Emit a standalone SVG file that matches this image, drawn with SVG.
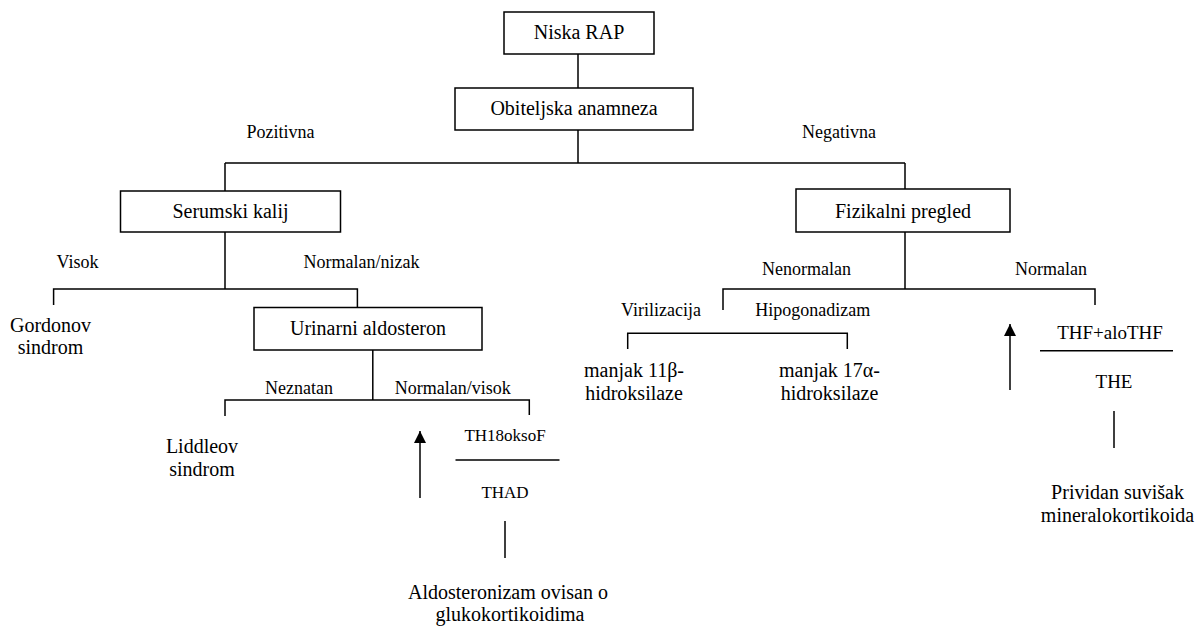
<svg xmlns="http://www.w3.org/2000/svg" width="1200" height="626" viewBox="0 0 1200 626">
<defs>
<style>
.box{fill:#fff;stroke:#000;stroke-width:1.5}
.ln{fill:none;stroke:#000;stroke-width:1.5}
.tx{fill:#000;text-anchor:middle}
.t20{font-size:20px}
.t18{font-size:18px}
.t17{font-size:17px}
.t19{font-size:19px}
</style>
<marker id="ah" markerUnits="userSpaceOnUse" markerWidth="12" markerHeight="12" refX="12" refY="6" orient="auto" viewBox="0 0 12 12">
<path d="M0,0 L12,6 L0,12 Z" fill="#000"/>
</marker>
</defs>
<rect width="1200" height="626" fill="#fff"/>
<g id="connectors">
<path class="ln" d="M578,54 V88 M578,130 V163 M225,163 H905 M225,163 V191 M905,163 V189"/>
<path class="ln" d="M225,232 V289 M53.6,305 V289 H357.4 V307.5"/>
<path class="ln" d="M905,232 V289 M723,310 V289 H1095 V305"/>
<path class="ln" d="M627.7,349 V333.3 H847.3 V349"/>
<path class="ln" d="M372.8,350 V400 M225,416 V400 H529.3 V415"/>
<path class="ln" d="M455.5,460 H559.5 M505,521 V558"/>
<path class="ln" d="M1040,350.7 H1173 M1114,411 V448"/>
<line class="ln" x1="420" y1="498" x2="420" y2="431" marker-end="url(#ah)"/>
<line class="ln" x1="1010" y1="390" x2="1010" y2="324" marker-end="url(#ah)"/>
</g>
<g font-family="'Liberation Serif', 'DejaVu Serif', 'Times New Roman', serif">
<g id="labels">
<text class="tx t18" x="280.5" y="138">Pozitivna</text>
<text class="tx t18" x="839" y="138">Negativna</text>
<text class="tx t18" x="77.5" y="268">Visok</text>
<text class="tx t18" x="361.5" y="268">Normalan/nizak</text>
<text class="tx t18" x="806.6" y="275">Nenormalan</text>
<text class="tx t18" x="1051" y="275">Normalan</text>
<text class="tx t18" x="661" y="316">Virilizacija</text>
<text class="tx t18" x="812.8" y="316">Hipogonadizam</text>
<text class="tx t18" x="299" y="394">Neznatan</text>
<text class="tx t18" x="452.8" y="394">Normalan/visok</text>
</g>
<g id="n_niska"><rect class="box" x="504" y="12" width="150" height="42"/><text class="tx t20" x="579" y="39">Niska RAP</text></g>
<g id="n_obiteljska"><rect class="box" x="455" y="88" width="238" height="42"/><text class="tx t20" x="574" y="115">Obiteljska anamneza</text></g>
<g id="n_serumski"><rect class="box" x="120.5" y="191" width="220" height="41"/><text class="tx t20" x="230.5" y="218">Serumski kalij</text></g>
<g id="n_fizikalni"><rect class="box" x="796" y="189" width="214" height="43"/><text class="tx t20" x="903" y="218">Fizikalni pregled</text></g>
<g id="n_urinarni"><rect class="box" x="254" y="307.5" width="228" height="42.5"/><text class="tx t20" x="368" y="335">Urinarni aldosteron</text></g>
<g id="n_gordonov"><text class="tx t20" x="50.5" y="331.7">Gordonov</text><text class="tx t20" x="50.5" y="354.3">sindrom</text></g>
<g id="n_liddleov"><text class="tx t20" x="202" y="452.7">Liddleov</text><text class="tx t20" x="202" y="475.7">sindrom</text></g>
<g id="n_11b"><text class="tx t20" x="634" y="376.7">manjak 11β-</text><text class="tx t20" x="634" y="400">hidroksilaze</text></g>
<g id="n_17a"><text class="tx t20" x="829.5" y="376.7">manjak 17α-</text><text class="tx t20" x="829.5" y="400">hidroksilaze</text></g>
<g id="n_th18"><text class="tx t17" x="505" y="441">TH18oksoF</text><text class="tx t17" x="505" y="498">THAD</text></g>
<g id="n_aldo"><text class="tx t20" x="508" y="599">Aldosteronizam ovisan o</text><text class="tx t20" x="510" y="620.7">glukokortikoidima</text></g>
<g id="n_thf"><text class="tx t19" x="1110" y="339">THF+aloTHF</text><text class="tx t19" x="1114" y="388">THE</text></g>
<g id="n_prividan"><text class="tx t20" x="1117.5" y="499">Prividan suvišak</text><text class="tx t20" x="1117.5" y="521.7">mineralokortikoida</text></g>
</g>
</svg>
